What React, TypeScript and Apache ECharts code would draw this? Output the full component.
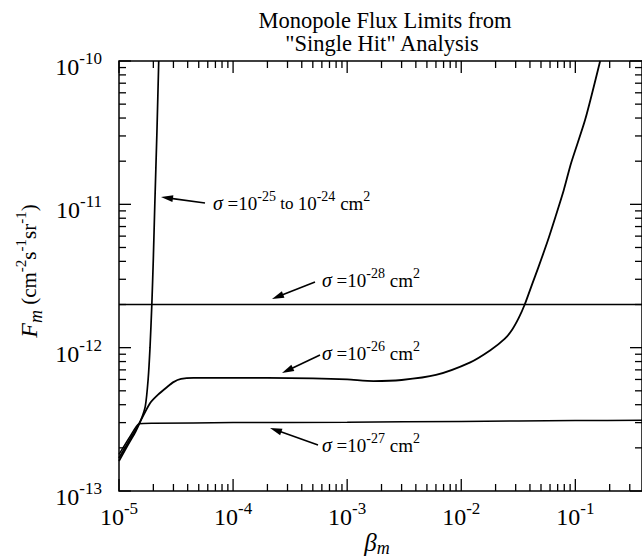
import React, { useEffect, useRef } from 'react';
import * as echarts from 'echarts';

// ---- axis extents ----
const xMin = 1e-5;
const xMax = 0.384;
const yMin = 1e-13;
const yMax = 1e-10;

// ---- curves (beta_m, F_m) ----
const sigma25X = [1.0e-5, 1.2e-5, 1.4e-5, 1.55e-5, 1.7e-5, 1.8e-5, 1.87e-5, 1.94e-5, 2.0e-5, 2.06e-5, 2.15e-5, 2.23e-5];
const sigma25Y = [1.62e-13, 2.1e-13, 2.6e-13, 3.1e-13, 3.9e-13, 6.0e-13, 1.0e-12, 2.0e-12, 4.2e-12, 1.0e-11, 3.2e-11, 1.0e-10];

const sigma26X = [1.0e-5, 1.25e-5, 1.5e-5, 1.87e-5, 2.2e-5, 2.63e-5, 3.0e-5, 3.5e-5, 4.5e-5, 1e-4, 2e-4, 5e-4, 1e-3, 1.7e-3, 3e-3, 6e-3, 1.2e-2, 1.8e-2, 2.4e-2, 2.8e-2, 3.2e-2, 3.6e-2, 4.2e-2, 4.75e-2, 5.7e-2, 6.7e-2, 7.9e-2, 9.2e-2, 0.122, 0.165];
const sigma26Y = [1.7e-13, 2.3e-13, 2.95e-13, 4.1e-13, 4.7e-13, 5.3e-13, 5.75e-13, 6.05e-13, 6.15e-13, 6.15e-13, 6.15e-13, 6.1e-13, 6.0e-13, 5.85e-13, 5.95e-13, 6.45e-13, 7.9e-13, 9.6e-13, 1.15e-12, 1.34e-12, 1.62e-12, 2.0e-12, 2.8e-12, 3.65e-12, 5.5e-12, 8.2e-12, 1.25e-11, 1.95e-11, 3.9e-11, 1.0e-10];

const sigma27X = [1.0e-5, 1.25e-5, 1.5e-5, 2.0e-5, 1e-4, 1e-3, 1e-2, 0.1, 0.384];
const sigma27Y = [1.8e-13, 2.4e-13, 2.95e-13, 2.97e-13, 3.0e-13, 3.02e-13, 3.06e-13, 3.1e-13, 3.12e-13];

const sigma28X = [1.0e-5, 0.384];
const sigma28Y = [2.0e-12, 2.0e-12];

// ---- ticks ----
const xDecades = [-5, -4, -3, -2, -1];
const yDecades = [-13, -12, -11];
const minorMult = [2, 3, 4, 5, 6, 7, 8, 9];

// ---- texts ----
const titleLines = ['Monopole Flux Limits from', '"Single Hit" Analysis'];

const FONT = '"Liberation Serif", "Times New Roman", serif';

const zip = (xs: number[], ys: number[]) => xs.map((x, i) => [x, ys[i]]);

function buildTicks() {
  const data: number[][] = [];
  xDecades.forEach((d) => {
    const base = Math.pow(10, d);
    data.push([base, yMin, 0, 1]);
    minorMult.forEach((m) => {
      const v = m * base;
      if (v < xMax) data.push([v, yMin, 0, 0]);
    });
  });
  yDecades.forEach((d) => {
    const base = Math.pow(10, d);
    data.push([xMin, base, 1, 1]);
    minorMult.forEach((m) => data.push([xMin, m * base, 1, 0]));
  });
  data.push([xMin, yMax, 1, 1]);
  return data;
}

const powLabel = (v: number) => {
  const e = Math.log10(v);
  const r = Math.round(e);
  if (Math.abs(e - r) > 1e-6) return '';
  return `{b|10}{s|${r}}`;
};

const labelRich = {
  b: { fontSize: 24, fontFamily: FONT, color: '#000', lineHeight: 34 },
  s: { fontSize: 17, fontFamily: FONT, color: '#000', verticalAlign: 'top' as const, lineHeight: 17 },
};

const annRich = {
  g: { fontSize: 20, fontFamily: FONT, fontStyle: 'italic' as const, fill: '#000', lineHeight: 28 },
  n: { fontSize: 19, fontFamily: FONT, fill: '#000', lineHeight: 28 },
  t: { fontSize: 17, fontFamily: FONT, fill: '#000', lineHeight: 28 },
  s: { fontSize: 14, fontFamily: FONT, fill: '#000', verticalAlign: 'top' as const, lineHeight: 14 },
};

function arrow(x1: number, y1: number, x2: number, y2: number) {
  const dx = x2 - x1;
  const dy = y2 - y1;
  const len = Math.hypot(dx, dy);
  const ux = dx / len;
  const uy = dy / len;
  const hl = 12;
  const hw = 3.5;
  const bx = x2 - ux * hl;
  const by = y2 - uy * hl;
  return [
    { type: 'line', shape: { x1, y1, x2: bx + ux * 2, y2: by + uy * 2 }, style: { stroke: '#000', lineWidth: 1.6 } },
    {
      type: 'polygon',
      shape: { points: [[x2, y2], [bx - uy * hw, by + ux * hw], [bx + uy * hw, by - ux * hw]] },
      style: { fill: '#000' },
    },
  ];
}

function textEl(x: number, y: number, text: string, rich: any, align = 'left', fontSize = 19) {
  return {
    type: 'text',
    x,
    y,
    style: {
      text,
      rich,
      fill: '#000',
      fontFamily: FONT,
      fontSize,
      align,
      textAlign: align,
      verticalAlign: 'middle',
      textVerticalAlign: 'middle',
    },
  };
}

export default function App() {
  const ref = useRef<HTMLDivElement>(null);

  useEffect(() => {
    if (!ref.current) return;
    const chart = echarts.init(ref.current, undefined, { renderer: 'svg' });

    const lineStyle = (w: number) => ({ color: '#000', width: w });

    const option: any = {
      animation: false,
      backgroundColor: '#fff',
      grid: {
        left: 119,
        right: -1,
        top: 61,
        bottom: 66,
        show: true,
        borderColor: '#000',
        borderWidth: 1.5,
        backgroundColor: 'transparent',
      },
      xAxis: {
        type: 'log',
        logBase: 10,
        min: xMin,
        max: xMax,
        axisLine: { show: false },
        axisTick: { show: false },
        splitLine: { show: false },
        minorTick: { show: false },
        axisLabel: {
          margin: 9,
          formatter: powLabel,
          rich: labelRich,
          showMaxLabel: false,
          hideOverlap: false,
        },
      },
      yAxis: {
        type: 'log',
        logBase: 10,
        min: yMin,
        max: yMax,
        axisLine: { show: false },
        axisTick: { show: false },
        splitLine: { show: false },
        axisLabel: {
          margin: 17,
          formatter: powLabel,
          rich: labelRich,
          padding: [12, 0, 0, 0],
        },
      },
      graphic: [
        textEl(385, 20, titleLines[0], undefined, 'center', 22.5),
        textEl(382, 43, titleLines[1], undefined, 'center', 22.5),
        // x axis name
        {
          type: 'text',
          x: 377,
          y: 542,
          style: {
            text: '{b|β}{m|m}',
            align: 'center',
            textAlign: 'center',
            verticalAlign: 'middle',
            textVerticalAlign: 'middle',
            fill: '#000',
            rich: {
              b: { fontSize: 25, fontFamily: FONT, fontStyle: 'italic', fill: '#000', lineHeight: 30 },
              m: { fontSize: 18, fontFamily: FONT, fontStyle: 'italic', fill: '#000', verticalAlign: 'bottom', lineHeight: 20 },
            },
          },
        },
        // y axis name
        {
          type: 'text',
          x: 29,
          y: 271,
          rotation: Math.PI / 2,
          style: {
            text: '{f|F}{m|m}{n| (cm}{s|-2}{n|s}{s|-1}{n|sr}{s|-1}{n|)}',
            align: 'center',
            textAlign: 'center',
            verticalAlign: 'middle',
            textVerticalAlign: 'middle',
            fill: '#000',
            rich: {
              f: { fontSize: 24, fontFamily: FONT, fontStyle: 'italic', fill: '#000', lineHeight: 32 },
              m: { fontSize: 18, fontFamily: FONT, fontStyle: 'italic', fill: '#000', verticalAlign: 'bottom', lineHeight: 20 },
              n: { fontSize: 21, fontFamily: FONT, fill: '#000', lineHeight: 32 },
              s: { fontSize: 15, fontFamily: FONT, fill: '#000', verticalAlign: 'top', lineHeight: 15 },
            },
          },
        },
        // annotations
        ...arrow(205, 203, 161, 197),
        textEl(213, 203, '{g|σ}{n| =10}{s|-25}{t| to }{n|10}{s|-24}{n| cm}{s|2}', annRich),
        ...arrow(315, 282, 272, 299),
        textEl(322, 280, '{g|σ}{n| =10}{s|-28}{n| cm}{s|2}', annRich),
        ...arrow(320, 355, 282, 373),
        textEl(322, 353, '{g|σ}{n| =10}{s|-26}{n| cm}{s|2}', annRich),
        ...arrow(318, 445, 270, 428),
        textEl(322, 445, '{g|σ}{n| =10}{s|-27}{n| cm}{s|2}', annRich),
      ],
      series: [
        {
          type: 'custom',
          name: 'ticks',
          silent: true,
          data: buildTicks(),
          renderItem: (params: any, api: any) => {
            const cs = params.coordSys;
            const isY = api.value(2) === 1;
            const major = api.value(3) === 1;
            const L = major ? 12 : 7;
            const st = { stroke: '#000', lineWidth: 1.3 };
            if (!isY) {
              const px = api.coord([api.value(0), yMin])[0];
              return {
                type: 'group',
                children: [
                  { type: 'line', shape: { x1: px, y1: cs.y + cs.height, x2: px, y2: cs.y + cs.height - L }, style: st },
                  { type: 'line', shape: { x1: px, y1: cs.y, x2: px, y2: cs.y + L }, style: st },
                ],
              };
            }
            const py = api.coord([xMin, api.value(1)])[1];
            const rx = Math.min(cs.x + cs.width, 642);
            return {
              type: 'group',
              children: [
                { type: 'line', shape: { x1: cs.x, y1: py, x2: cs.x + L, y2: py }, style: st },
                { type: 'line', shape: { x1: rx, y1: py, x2: rx - L, y2: py }, style: st },
              ],
            };
          },
        },
        {
          type: 'line',
          name: 'σ=1e-25 to 1e-24',
          data: zip(sigma25X, sigma25Y),
          showSymbol: false,
          smooth: 0.2,
          lineStyle: lineStyle(1.7),
          clip: true,
        },
        {
          type: 'line',
          name: 'σ=1e-26',
          data: zip(sigma26X, sigma26Y),
          showSymbol: false,
          smooth: 0.25,
          lineStyle: lineStyle(1.8),
          clip: true,
        },
        {
          type: 'line',
          name: 'σ=1e-27',
          data: zip(sigma27X, sigma27Y),
          showSymbol: false,
          smooth: 0.2,
          lineStyle: lineStyle(1.5),
          clip: true,
        },
        {
          type: 'line',
          name: 'σ=1e-28',
          data: zip(sigma28X, sigma28Y),
          showSymbol: false,
          lineStyle: lineStyle(1.5),
          clip: true,
        },
      ],
    };

    chart.setOption(option);
    return () => chart.dispose();
  }, []);

  return (
    <div
      ref={ref}
      style={{ position: 'absolute', left: 0, top: 0, width: 642, height: 557, background: '#fff' }}
    />
  );
}
